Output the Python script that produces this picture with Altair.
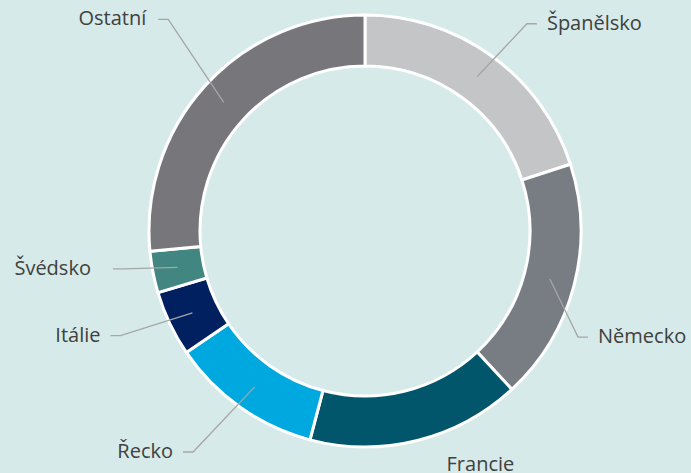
import math
import altair as alt
import pandas as pd

# ---- data ----
categories = ["Španělsko", "Německo", "Francie", "Řecko", "Itálie", "Švédsko", "Ostatní"]
values = [20.0, 18.1, 16.0, 11.4, 4.9, 3.1, 26.5]
colors = ["#c4c5c7", "#787d84", "#02566c", "#00a8e0", "#002060", "#428682", "#77777b"]

# ---- label layout (angle nudge in degrees, label radius, has leader line, text gap) ----
label_shift = [2.0, 11.9, -12.2, 2.6, 2.2, 2.1, 4.8]
label_radius = [263, 238, 261, 280, 266, 245, 289]
has_line = [True, True, False, True, True, True, True]
text_gap = [10, 10, 0, 10, 10, 22, 12]

W, H = 652, 462
R_OUT, R_IN = 216, 165
R_LEADER = 191
SEG = 10

df = pd.DataFrame({"cat": categories, "val": values, "idx": list(range(len(categories)))})

total = sum(values)
lines_rows = []
text_rows = []
cum = 0.0
for i, (c, v) in enumerate(zip(categories, values)):
    mid = (cum + v / 2) / total * 360.0
    cum += v
    a0 = math.radians(mid)
    a1 = math.radians(mid + label_shift[i])
    ix, iy = R_LEADER * math.sin(a0), R_LEADER * math.cos(a0)
    ex, ey = label_radius[i] * math.sin(a1), label_radius[i] * math.cos(a1)
    side = "left" if ex < 0 else "right"
    sgn = -1 if side == "left" else 1
    if has_line[i]:
        pts = [(ix, iy), (ex, ey), (ex + sgn * SEG, ey)]
        for k, (px, py) in enumerate(pts):
            lines_rows.append({"cat": c, "k": k, "x": px, "y": py})
        tx = ex + sgn * (SEG + text_gap[i])
        align = "right" if side == "left" else "left"
    else:
        tx = ex
        align = "center"
    text_rows.append({"cat": c, "x": tx, "y": ey, "align": align})

lines_df = pd.DataFrame(lines_rows)
text_df = pd.DataFrame(text_rows)

xs = alt.Scale(domain=[-W / 2, W / 2])
ys = alt.Scale(domain=[-H / 2, H / 2])

arcs = alt.Chart(df).mark_arc(
    innerRadius=R_IN, outerRadius=R_OUT, stroke="white", strokeWidth=3
).encode(
    theta=alt.Theta("val:Q", stack=True),
    color=alt.Color("cat:N", scale=alt.Scale(domain=categories, range=colors), legend=None),
    order=alt.Order("idx:Q"),
)

leaders = alt.Chart(lines_df).mark_line(color="#a6a6a6", strokeWidth=1.3).encode(
    x=alt.X("x:Q", scale=xs, axis=None),
    y=alt.Y("y:Q", scale=ys, axis=None),
    detail="cat:N",
    order="k:Q",
)

def text_layer(al):
    return alt.Chart(text_df).transform_filter(
        alt.datum.align == al
    ).mark_text(
        align=al, baseline="middle", font="Open Sans", fontSize=20, color="#404040"
    ).encode(
        x=alt.X("x:Q", scale=xs, axis=None),
        y=alt.Y("y:Q", scale=ys, axis=None),
        text="cat:N",
    )

chart = alt.layer(
    arcs, leaders, text_layer("left"), text_layer("right"), text_layer("center")
).properties(
    width=W, height=H,
    autosize=alt.AutoSizeParams(type="none"),
    padding={"left": 39, "top": 0, "right": 0, "bottom": 11},
    background="#d6eae9",
).configure_view(stroke=None)

chart.save("out.html", embed_options={"renderer": "svg", "actions": False})
